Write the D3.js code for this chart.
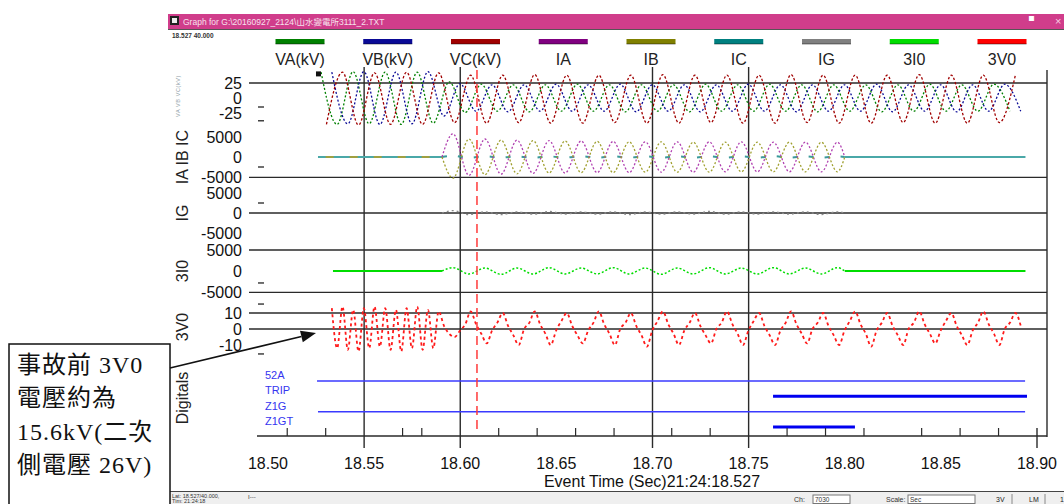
<!DOCTYPE html>
<html>
<head>
<meta charset="utf-8">
<script src="https://cdn.jsdelivr.net/npm/d3@7"></script>
<style>
  html, body { margin: 0; padding: 0; background: #fff; }
  svg { display: block; font-family: "Liberation Sans", Arial, "Noto Sans CJK TC", sans-serif; }
</style>
</head>
<body>
<svg id="chart" width="1064" height="504"></svg>
<script>
// ---------------- record data ----------------
const channelNames  = ["VA(kV)", "VB(kV)", "VC(kV)", "IA", "IB", "IC", "IG", "3I0", "3V0"];
const channelColors = ["#008000", "#0a0a96", "#a00000", "#800080", "#808000", "#008080", "#808080", "#00dd00", "#ff0000"];

const recordStart = 18.526;   // first sample (s)
const recordEnd   = 18.894;   // last sample (s)
const faultTime   = 18.5905;  // fault inception
const clearTime   = 18.800;   // fault current gone
const cursorTime  = 18.6087;  // red cursor
const halfCycle   = 1 / 120;  // 60 Hz system, spacing of successive extrema
const harmStep    = 1 / 360;  // spacing of 3V0 extrema (3rd harmonic)

// Phase voltages: successive half-cycle extrema (kV)
const vaStart = 18.5276;
const vaPeaks = [43, -44, 44, -43, 43, -44, 43, -42,
  27, -24, 23, -22, 22, -23, 22, -22, 23, -22, 22, -23, 22, -22, 22, -23, 23, -22,
  22, -22, 23, -22, 22, -23, 22, -22, 22, -23, 22, -22, 23, -22, 22, -22, 23, -22];
const vbStart = 18.5332;
const vbPeaks = [43, -43, 44, -44, 43, -43, 44, -30,
  24, -22, 22, -23, 22, -22, 23, -22, 22, -22, 23, -23, 22, -22, 22, -23, 22, -22,
  23, -22, 22, -23, 22, -22, 22, -22, 23, -23, 22, -22, 22, -23, 22, -22, 23, -22];
const vcStart = 18.5304;
const vcPeaks = [-44, 43, -45, 42, -44, 43, -44, 42,
  -41, 38, -42, 38, -41, 39, -42, 38, -42, 38, -41, 38, -42, 39, -42, 38, -41, 38,
  -42, 38, -42, 39, -41, 38, -42, 38, -42, 38, -41, 39, -42, 38, -42, 38, -41, 38];

// Currents during the fault: half-cycle extrema (A)
const iStart  = 18.5962;
const iaPeaks = [5800, -4600, 4500, -4300, 4200, -4100, 4100, -4000, 4000, -3900, 3900, -3900, 3800,
  -3800, 3800, -3800, 3800, -3700, 3800, -3700, 3700, -3700, 3700, -3700, 3700];
const ibPeaks = [-5300, 4500, -4400, 4200, -4200, 4100, -4000, 4000, -3900, 3900, -3900, 3800, -3800,
  3800, -3800, 3700, -3800, 3700, -3700, 3700, -3700, 3700, -3700, 3700, -3700];
const icPeaks = [300, -200, 200, -150, 150, -200, 150, -150, 200, -150, 150, -150, 200,
  -150, 150, -200, 150, -150, 150, -150, 200, -150, 150, -150, 150];
const igPeaks = [600, -400, 300, -400, 300, -300, 400, -300, 300, -300, 300, -400, 300,
  -300, 300, -300, 400, -300, 300, -300, 300, -300, 300, -400, 300];
const i0Start = 18.5338;
const i0Peaks = [800, -700, 700, -800, 700, -700, 800, -700, 700, -700, 800, -700, 700,
  -800, 700, -700, 800, -700, 700, -700, 800, -700, 700, -700, 800];

// Residual voltage 3V0 (kV), extrema every 1/360 s
const v0Start = 18.5332;
const v0Values = [13, -12, 14, -13, 12, -14, 13, -12, 14, -11, 13, -13, 12, -14, 13, -12, 14, -13, 12, -12, 11,
  2, -3, -5, -1, 3, 11,
  3, -3, -9, -1, 4, 10,
  2, -4, -10, 0, 4, 11,
  3, -3, -10, -1, 5, 10,
  2, -4, -9, -1, 4, 11,
  3, -3, -10, 0, 4, 10,
  2, -4, -11, -1, 5, 11,
  3, -3, -10, -1, 4, 10,
  2, -4, -9, 0, 4, 11,
  3, -3, -10, -1, 5, 10,
  2, -4, -10, -1, 4, 11,
  3, -3, -9, 0, 4, 10,
  2, -4, -10, -1, 5, 11,
  3, -3, -11, -1, 4, 10,
  2, -4, -10, 0, 4, 11,
  3, -3, -9, -1, 5, 10,
  2, -4, -10, -1, 4, 11,
  3, -3, -10, 0, 4, 10,
  2];

// Digital channels: [start, end, asserted]
const digitalNames = ["52A", "TRIP", "Z1G", "Z1GT"];
const digitalSegments = [
  [[18.5255, 18.8938, false]],
  [[18.7627, 18.8948, true]],
  [[18.5260, 18.8938, false]],
  [[18.7627, 18.8053, true]]
];

// Axis / scale values
const voltTicks = [25, 0, -25];
const ampTicks  = [5000, 0, -5000];
const v0Ticks   = [10, 0, -10];
const timeLabels = [18.50, 18.55, 18.60, 18.65, 18.70, 18.75, 18.80, 18.85, 18.90];
const gridTimes  = [18.55, 18.60, 18.70, 18.75];
const minorTimes = [18.51, 18.53, 18.57, 18.58, 18.62, 18.64, 18.66, 18.68, 18.71, 18.73,
                    18.77, 18.79, 18.81, 18.84, 18.86, 18.88];
const eventTitle = "Event Time (Sec)21:24:18.527";
const noteLines = ["事故前 3V0", "電壓約為", "15.6kV(二次", "側電壓 26V)"];

// ---------------- drawing ----------------
const svg = d3.select("#chart");
const x = d3.scaleLinear().domain([18.50, 18.90]).range([268, 1037]);

const panels = {
  V:  { y: d3.scaleLinear().domain([-25, 25]).range([113, 83]),       ticks: voltTicks, grid: [25],          marks: [-15, -38] },
  I:  { y: d3.scaleLinear().domain([-5000, 5000]).range([177, 137]),  ticks: ampTicks,  grid: [-5100],       marks: [-2500] },
  IG: { y: d3.scaleLinear().domain([-5000, 5000]).range([233, 193]),  ticks: ampTicks,  grid: [0],           marks: [2500] },
  I0: { y: d3.scaleLinear().domain([-5000, 5000]).range([292, 250]),  ticks: ampTicks,  grid: [5000, -5100], marks: [-2850] },
  V0: { y: d3.scaleLinear().domain([-10, 10]).range([345, 313]),      ticks: v0Ticks,   grid: [10, 0],       marks: [15.6, -15.6] }
};
const panelTitles = [["IA IB IC", 157], ["IG", 213], ["3I0", 271], ["3V0", 327], ["Digitals", 398]];

// window chrome: title bar
svg.append("rect").attr("x", 168).attr("y", 14).attr("width", 896).attr("height", 15).attr("fill", "#d03d8b");
svg.append("line").attr("x1", 168).attr("x2", 1064).attr("y1", 29.5).attr("y2", 29.5).attr("stroke", "#555").attr("stroke-width", 1);
svg.append("rect").attr("x", 170).attr("y", 16).attr("width", 9).attr("height", 9).attr("fill", "#222");
svg.append("rect").attr("x", 172).attr("y", 18).attr("width", 5).attr("height", 5).attr("fill", "#eee");
svg.append("text").attr("x", 183).attr("y", 24.5).attr("font-size", 8.5).attr("fill", "#fff")
  .attr("opacity", 0.85).text("Graph for G:\\20160927_2124\\山水變電所3111_2.TXT");
svg.append("text").attr("x", 1024).attr("y", 25).attr("font-size", 10).attr("fill", "#fff").text("▝");
svg.append("text").attr("x", 1055).attr("y", 25).attr("font-size", 11).attr("fill", "#f6d0e2").text("×");
svg.append("text").attr("x", 172).attr("y", 38).attr("font-size", 6.5).attr("font-weight", "bold")
  .attr("fill", "#333").text("18.527  40.000");

// legend
const legendX = d3.scalePoint().domain(channelNames).range([300, 1002]);
const legend = svg.append("g").selectAll("g").data(channelNames).join("g")
  .attr("transform", d => `translate(${legendX(d)},0)`);
legend.append("rect").attr("x", -24.5).attr("y", 39).attr("width", 49).attr("height", 5)
  .attr("fill", (d, i) => channelColors[i]);
legend.append("rect").attr("x", -24.5).attr("y", 43.5).attr("width", 49).attr("height", 1)
  .attr("fill", "#000").attr("opacity", 0.45);
legend.append("text").attr("y", 65).attr("text-anchor", "middle").attr("font-size", 16)
  .attr("fill", "#222").text(d => d);

// tiny rotated caption of the voltage panel
svg.append("text").attr("transform", "translate(180,96) rotate(-90)").attr("text-anchor", "middle")
  .attr("font-size", 5.5).attr("fill", "#8fa0a8").attr("letter-spacing", 0.6).text("VA VB VC(kV)");

// panel titles
svg.append("g").selectAll("text").data(panelTitles).join("text")
  .attr("transform", d => `translate(188,${d[1]}) rotate(-90)`)
  .attr("text-anchor", "middle").attr("font-size", 16).attr("fill", "#222").text(d => d[0]);

// y tick labels, grid lines and small marks
Object.values(panels).forEach(p => {
  const g = svg.append("g");
  g.selectAll("text").data(p.ticks).join("text")
    .attr("x", 242).attr("y", d => p.y(d)).attr("dy", "0.36em").attr("text-anchor", "end")
    .attr("font-size", 16).attr("fill", "#111").text(d => d);
  g.selectAll("line.grid").data(p.grid).join("line").attr("class", "grid")
    .attr("x1", 249).attr("x2", 1047).attr("y1", d => p.y(d)).attr("y2", d => p.y(d))
    .attr("stroke", "#2a2a2a").attr("stroke-width", 1.4);
  g.selectAll("line.mark").data(p.marks).join("line").attr("class", "mark")
    .attr("x1", 258).attr("x2", 264).attr("y1", d => p.y(d)).attr("y2", d => p.y(d))
    .attr("stroke", "#111").attr("stroke-width", 1.2);
});

// vertical grid lines and frame
svg.append("g").selectAll("line").data(gridTimes).join("line")
  .attr("x1", d => x(d)).attr("x2", d => x(d)).attr("y1", 67).attr("y2", 448)
  .attr("stroke", "#2a2a2a").attr("stroke-width", 1.4);
svg.append("line").attr("x1", 1047).attr("x2", 1047).attr("y1", 70).attr("y2", 437)
  .attr("stroke", "#2a2a2a").attr("stroke-width", 1.4);

// waveform helpers
const seq = (start, step, values) => values.map((v, i) => ({ t: start + i * step, v }));
const lineFor = sc => d3.line().x(d => x(d.t)).y(d => sc(d.v)).curve(d3.curveMonotoneX);
const traces = svg.append("g").attr("fill", "none");
function drawTrace(points, sc, color, opts = {}) {
  traces.append("path").datum(points).attr("d", lineFor(sc))
    .attr("stroke", color).attr("stroke-width", opts.w || 1.3)
    .attr("stroke-dasharray", opts.dash || null);
}
const zeroSeg = (a, b) => [{ t: a, v: 0 }, { t: b, v: 0 }];
const faultWave = (start, vals) => [{ t: faultTime, v: 0 }, ...seq(start, halfCycle, vals), { t: clearTime, v: 0 }];

// phase voltages
drawTrace(seq(vaStart, halfCycle, vaPeaks), panels.V.y, channelColors[0], { dash: "2,2" });
drawTrace(seq(vbStart, halfCycle, vbPeaks), panels.V.y, channelColors[1], { dash: "2,2" });
drawTrace(seq(vcStart, halfCycle, vcPeaks), panels.V.y, channelColors[2], { dash: "2.5,2" });

// phase currents
drawTrace(zeroSeg(recordStart, faultTime), panels.I.y, "#4aa8a8", { w: 2.2 });
drawTrace(zeroSeg(clearTime, recordEnd), panels.I.y, "#4aa8a8", { w: 2.2 });
drawTrace(zeroSeg(recordStart + 0.004, faultTime), panels.I.y, "#a0a040", { w: 2.2, dash: "8,16" });
drawTrace(faultWave(iStart, icPeaks), panels.I.y, "#3a9a9a", { w: 2, dash: "5,11" });
drawTrace(faultWave(iStart, iaPeaks), panels.I.y, "#b040b0", { dash: "2,2" });
drawTrace(faultWave(iStart, ibPeaks), panels.I.y, "#a0a030", { dash: "2,2" });

// ground current
drawTrace(faultWave(iStart, igPeaks), panels.IG.y, "#8a8a8a", { dash: "2,3" });

// 3I0
drawTrace(zeroSeg(i0Start, faultTime), panels.I0.y, channelColors[7], { w: 1.8 });
drawTrace(faultWave(iStart, i0Peaks), panels.I0.y, channelColors[7], { w: 1.5, dash: "2,2" });
drawTrace(zeroSeg(clearTime, recordEnd), panels.I0.y, channelColors[7], { w: 1.8 });

// 3V0
drawTrace(seq(v0Start, harmStep, v0Values), panels.V0.y, "#ff1a1a", { w: 1.8, dash: "3,3" });

// start-of-record marker
svg.append("rect").attr("x", x(recordStart) - 2).attr("y", panels.V.y(41) - 2).attr("width", 5).attr("height", 5)
  .attr("fill", "#111");

// digital channels
const digY = d3.scalePoint().domain(digitalNames).range([381, 427]);
const dig = svg.append("g");
dig.selectAll("text").data(digitalNames).join("text")
  .attr("x", 265).attr("y", d => digY(d) - 2).attr("font-size", 11).attr("fill", "#3535f0").text(d => d);
digitalNames.forEach((name, i) => {
  dig.selectAll(null).data(digitalSegments[i]).join("line")
    .attr("x1", d => x(d[0])).attr("x2", d => x(d[1]))
    .attr("y1", digY(name)).attr("y2", digY(name))
    .attr("stroke", d => d[2] ? "#0000f0" : "#3a3aff")
    .attr("stroke-width", d => d[2] ? 3 : 1.5);
});

// cursor
svg.append("line").attr("x1", x(cursorTime)).attr("x2", x(cursorTime)).attr("y1", 70).attr("y2", 433)
  .attr("stroke", "#ff3a3a").attr("stroke-width", 1.5).attr("stroke-dasharray", "9,5");

// time axis
const ax = svg.append("g");
ax.append("line").attr("x1", 257).attr("x2", 1047).attr("y1", 436).attr("y2", 436)
  .attr("stroke", "#2a2a2a").attr("stroke-width", 1.4);
ax.selectAll("line.minor").data(minorTimes).join("line").attr("class", "minor")
  .attr("x1", d => x(d)).attr("x2", d => x(d)).attr("y1", 428).attr("y2", 436)
  .attr("stroke", "#2a2a2a").attr("stroke-width", 1.2);
ax.append("line").attr("x1", x(18.90)).attr("x2", x(18.90)).attr("y1", 428).attr("y2", 448)
  .attr("stroke", "#2a2a2a").attr("stroke-width", 1.4);
ax.selectAll("text.lbl").data(timeLabels).join("text").attr("class", "lbl")
  .attr("x", d => x(d)).attr("y", 469).attr("text-anchor", "middle").attr("font-size", 16)
  .attr("fill", "#111").text(d => d3.format(".2f")(d));
ax.append("text").attr("x", 652).attr("y", 487).attr("text-anchor", "middle").attr("font-size", 16)
  .attr("fill", "#111").text(eventTitle);

// status bar
svg.append("line").attr("x1", 168).attr("x2", 1064).attr("y1", 491.5).attr("y2", 491.5).attr("stroke", "#444").attr("stroke-width", 1);
svg.append("rect").attr("x", 168).attr("y", 492).attr("width", 896).attr("height", 12).attr("fill", "#efefef");
svg.append("text").attr("x", 172).attr("y", 497.5).attr("font-size", 5.5).attr("fill", "#333").text("Lat: 18.527/40.000,");
svg.append("text").attr("x", 172).attr("y", 503).attr("font-size", 5.5).attr("fill", "#333").text("Tim: 21:24:18");
svg.append("text").attr("x", 248).attr("y", 499).attr("font-size", 6).attr("fill", "#333").text("I---");
svg.append("text").attr("x", 794).attr("y", 502).attr("font-size", 7).attr("fill", "#333").text("Ch:");
svg.append("rect").attr("x", 813).attr("y", 495).attr("width", 37).attr("height", 8.5).attr("fill", "#fff").attr("stroke", "#777");
svg.append("text").attr("x", 815).attr("y", 502).attr("font-size", 6.5).attr("fill", "#333").text("7030");
svg.append("text").attr("x", 886).attr("y", 502).attr("font-size", 7).attr("fill", "#333").text("Scale:");
svg.append("rect").attr("x", 908).attr("y", 495).attr("width", 67).attr("height", 8.5).attr("fill", "#fff").attr("stroke", "#777");
svg.append("text").attr("x", 910).attr("y", 502).attr("font-size", 6.5).attr("fill", "#333").text("Sec");
[[988, "3V"], [1021, "LM"], [1052, "1"]].forEach(([bx, t]) => {
  svg.append("line").attr("x1", bx + 24).attr("x2", bx + 24).attr("y1", 494).attr("y2", 504).attr("stroke", "#888");
  svg.append("text").attr("x", bx + 8).attr("y", 502).attr("font-size", 7).attr("fill", "#222").text(t);
});

// annotation box with arrow
svg.append("rect").attr("x", 9).attr("y", 344).attr("width", 161).attr("height", 175)
  .attr("fill", "#fff").attr("stroke", "#111").attr("stroke-width", 1.5);
svg.append("g").selectAll("text").data(noteLines).join("text")
  .attr("x", 17).attr("y", (d, i) => 373 + i * 33.3)
  .attr("font-family", "'Liberation Serif', 'Noto Sans CJK TC', serif")
  .attr("font-size", 24).attr("letter-spacing", 1).attr("fill", "#111").text(d => d);
const tail = [170, 368], tip = [316, 333];
const len = Math.hypot(tip[0] - tail[0], tip[1] - tail[1]);
const ux = (tip[0] - tail[0]) / len, uy = (tip[1] - tail[1]) / len;
const bx = tip[0] - 15 * ux, by = tip[1] - 15 * uy;
svg.append("line").attr("x1", tail[0]).attr("y1", tail[1]).attr("x2", bx).attr("y2", by)
  .attr("stroke", "#111").attr("stroke-width", 1.6);
svg.append("path").attr("fill", "#111")
  .attr("d", `M${tip[0]},${tip[1]}L${bx - 6 * uy},${by + 6 * ux}L${bx + 6 * uy},${by - 6 * ux}Z`);
</script>
</body>
</html>
